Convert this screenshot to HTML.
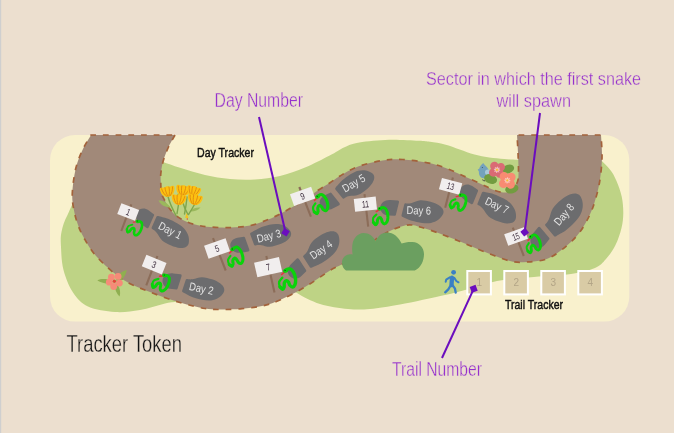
<!DOCTYPE html>
<html><head><meta charset="utf-8"><title>Tracker Token</title>
<style>
html,body{margin:0;padding:0;background:#ecdfcf;}
body{width:674px;height:433px;overflow:hidden;font-family:"Liberation Sans",sans-serif;}
svg{display:block;will-change:transform}
text{font-family:"Liberation Sans",sans-serif;}
</style></head><body>
<svg width="674" height="433" viewBox="0 0 674 433">
<defs><clipPath id="card"><rect x="50" y="135" width="579.3" height="186.6" rx="25" ry="25"/></clipPath></defs>
<rect width="674" height="433" fill="#ecdfcf"/>
<rect x="0" y="0" width="1.2" height="433" fill="#cfcfcf"/>
<rect x="50" y="135" width="579.3" height="186.6" rx="25" ry="25" fill="#f9f1cd"/>
<g clip-path="url(#card)">
<path d="M80.0,200.0 C71.2,200.8 70.6,209.7 67.5,215.0 C64.4,220.3 62.6,226.7 61.5,232.0 C60.4,237.3 60.7,240.7 61.0,247.0 C61.3,253.3 61.5,262.4 63.5,270.0 C65.5,277.6 68.9,286.4 73.0,292.5 C77.1,298.6 81.0,303.2 88.0,306.5 C95.0,309.8 106.3,311.4 115.0,312.0 C123.7,312.6 131.7,311.4 140.0,310.0 C148.3,308.6 156.7,305.8 165.0,303.5 C173.3,301.2 184.2,303.2 190.0,296.0 C195.8,288.8 211.7,274.3 200.0,260.0 C188.3,245.7 140.0,220.0 120.0,210.0 C100.0,200.0 88.8,199.2 80.0,200.0Z" fill="#bed385"/>
<path d="M150.0,157.0 C149.6,148.1 157.5,160.0 162.5,161.8 C167.5,163.6 172.9,165.6 180.0,167.8 C187.1,170.0 196.7,173.1 205.0,175.0 C213.3,176.9 221.7,178.2 230.0,179.0 C238.3,179.8 246.7,180.0 255.0,179.5 C263.3,179.0 271.7,178.0 280.0,176.0 C288.3,174.0 296.7,170.9 305.0,167.5 C313.3,164.1 323.1,158.9 329.7,155.5 C336.3,152.1 339.6,149.4 344.5,147.2 C349.4,145.0 351.9,143.7 359.3,142.5 C366.7,141.3 379.1,140.1 389.0,139.8 C398.9,139.5 411.9,140.5 418.7,140.8 C425.5,141.1 425.6,141.2 430.0,141.8 C434.4,142.4 439.9,143.1 444.8,144.4 C449.8,145.7 454.8,147.7 459.7,149.4 C464.6,151.1 469.6,153.2 474.5,154.5 C479.4,155.8 484.4,156.8 489.3,157.5 C494.2,158.2 499.5,158.6 504.2,159.0 C508.9,159.4 514.0,159.6 517.5,159.8 C521.0,160.0 523.8,153.3 525.0,160.0 C526.2,166.7 545.8,196.7 525.0,200.0 C504.2,203.3 432.5,180.0 400.0,180.0 C367.5,180.0 350.0,190.8 330.0,200.0 C310.0,209.2 301.7,229.2 280.0,235.0 C258.3,240.8 219.2,238.3 200.0,235.0 C180.8,231.7 173.3,228.0 165.0,215.0 C156.7,202.0 150.4,165.9 150.0,157.0Z" fill="#bed385"/>
<path d="M290.0,285.0 C281.2,293.0 292.0,289.8 297.0,293.0 C302.0,296.2 311.5,301.3 320.0,304.0 C328.5,306.7 339.7,308.2 348.0,309.0 C356.3,309.8 361.3,309.8 370.0,309.0 C378.7,308.2 387.5,306.8 400.0,304.5 C412.5,302.2 433.8,297.5 445.0,295.0 C456.2,292.5 458.3,291.8 467.0,289.5 C475.7,287.2 485.8,283.1 497.0,281.0 C508.2,278.9 521.7,278.2 534.0,277.0 C546.3,275.8 560.8,275.5 571.0,274.0 C581.2,272.5 589.2,270.5 595.0,268.0 C600.8,265.5 602.6,262.8 606.0,259.0 C609.4,255.2 612.9,250.2 615.5,245.0 C618.1,239.8 620.2,233.3 621.5,228.0 C622.8,222.7 623.2,218.2 623.3,213.0 C623.3,207.8 622.9,202.3 621.8,197.0 C620.7,191.7 618.5,185.7 616.5,181.0 C614.5,176.3 612.6,172.6 609.5,169.0 C606.4,165.4 601.2,159.3 598.0,159.5 C594.8,159.7 596.3,156.6 590.0,170.0 C583.7,183.4 575.0,228.3 560.0,240.0 C545.0,251.7 523.3,244.2 500.0,240.0 C476.7,235.8 445.0,214.2 420.0,215.0 C395.0,215.8 371.7,233.3 350.0,245.0 C328.3,256.7 298.8,277.0 290.0,285.0Z" fill="#bed385"/>
</g>
<path d="M175.0,135.0 C173.9,137.0 170.4,142.8 168.5,147.0 C166.6,151.2 164.8,155.8 163.5,160.0 C162.2,164.2 161.5,168.5 161.0,172.0 C160.5,175.5 160.6,177.5 160.7,181.0 C160.8,184.5 160.9,189.8 161.5,193.0 C162.1,196.2 163.2,197.4 164.5,200.0 C165.8,202.6 167.5,205.8 169.5,208.5 C171.5,211.2 173.7,213.8 176.5,216.0 C179.3,218.2 183.0,220.2 186.6,221.8 C190.2,223.4 194.1,224.4 198.0,225.3 C201.9,226.2 204.7,226.6 210.0,227.0 C215.3,227.4 223.3,227.8 230.0,227.6 C236.7,227.4 243.8,226.9 250.0,225.6 C256.2,224.3 262.5,221.7 267.5,219.8 C272.5,217.9 275.9,216.1 280.0,214.0 C284.1,211.9 287.8,209.7 292.0,207.3 C296.2,204.9 300.7,202.6 305.0,199.8 C309.3,197.0 313.8,193.1 318.0,190.3 C322.2,187.5 326.3,185.2 330.0,182.8 C333.7,180.4 335.4,178.7 340.0,176.0 C344.6,173.3 350.4,169.4 357.5,166.8 C364.6,164.2 375.0,161.7 382.5,160.5 C390.0,159.3 395.0,159.1 402.5,159.5 C410.0,159.9 420.4,161.4 427.5,162.8 C434.6,164.2 439.2,165.7 445.0,167.8 C450.8,169.9 456.7,172.9 462.5,175.5 C468.3,178.1 475.0,181.2 480.0,183.5 C485.0,185.8 488.7,188.0 492.5,189.5 C496.3,191.0 500.1,192.2 503.0,192.5 C505.9,192.8 508.0,192.2 510.0,191.2 C512.0,190.2 513.7,188.4 515.0,186.5 C516.3,184.6 517.4,182.8 518.0,180.0 C518.6,177.2 518.5,174.6 518.5,170.0 C518.5,165.4 518.2,158.3 518.0,152.5 C517.8,146.7 517.2,137.9 517.0,135.0 L601.0,135.0 C601.2,138.8 602.2,149.6 602.0,157.5 C601.8,165.4 600.8,175.0 599.5,182.5 C598.2,190.0 596.3,196.7 594.5,202.5 C592.7,208.3 591.0,212.5 588.5,217.5 C586.0,222.5 583.1,227.8 579.5,232.5 C575.9,237.2 572.2,241.2 567.0,245.5 C561.8,249.8 554.7,255.8 548.0,258.5 C541.3,261.2 533.3,261.6 527.0,262.0 C520.7,262.4 517.0,262.7 510.0,261.0 C503.0,259.3 493.3,255.2 485.0,252.0 C476.7,248.8 468.0,244.8 460.0,241.5 C452.0,238.2 443.7,234.9 437.0,232.5 C430.3,230.1 424.2,228.2 420.0,227.0 C415.8,225.8 414.5,225.2 412.0,225.0 C409.5,224.8 408.3,224.7 405.0,225.5 C401.7,226.3 396.7,227.8 392.0,230.0 C387.3,232.2 382.3,235.0 377.0,238.5 C371.7,242.0 365.3,247.0 360.0,251.0 C354.7,255.0 350.0,259.2 345.0,262.5 C340.0,265.8 336.7,266.4 330.0,270.5 C323.3,274.6 313.3,282.1 305.0,287.0 C296.7,291.9 287.2,296.8 280.0,300.0 C272.8,303.2 268.3,304.6 262.0,306.0 C255.7,307.4 248.7,308.1 242.0,308.7 C235.3,309.3 228.2,309.5 222.0,309.5 C215.8,309.5 212.0,309.7 205.0,308.5 C198.0,307.3 189.2,305.2 180.0,302.5 C170.8,299.8 159.7,295.9 150.0,292.0 C140.3,288.1 130.8,284.8 122.0,279.0 C113.2,273.2 103.3,263.8 97.0,257.0 C90.7,250.2 87.3,243.8 84.0,238.0 C80.7,232.2 78.8,227.5 77.0,222.0 C75.2,216.5 73.8,210.3 73.0,205.0 C72.2,199.7 72.0,196.2 72.5,190.0 C73.0,183.8 74.3,174.2 76.0,167.5 C77.7,160.8 80.0,155.4 82.5,150.0 C85.0,144.6 89.6,137.5 91.0,135.0Z" fill="#a18979" stroke="#a3623a" stroke-width="1.7" stroke-dasharray="5.8 6.9" stroke-linejoin="round"/>
<path fill="#6b9f60" d="M346,270.5 C343.5,269 342,266 342,262.5 C342,258 345.5,254.500 350,254.300 C351,254.300 352,254.400 352.600,254.600 C352,251 352,247 352.500,244 C353.500,238 358,233 363.500,233 C369,233 373.500,236.500 375.600,241.300 C377.500,236.500 381.500,232.500 387,232.500 C393.500,232.500 398.500,237 401.600,243.600 C404.500,242.300 408.500,241.800 412.500,242 C419,242.300 424,247.500 424,254 C424,261 421,267.500 414.800,270.500 Z"/>
<g fill="#6c6c6e"><path class="sole" transform="translate(170.7,232.2) rotate(35.0) scale(1.04,1.04)" d="M-18.6,-5.9 C-18.0,-6.1 -16.2,-6.8 -14.7,-7.3 C-13.2,-7.8 -12.0,-8.5 -9.5,-9.1 C-7.0,-9.7 -2.6,-10.4 0.6,-10.6 C3.7,-10.8 6.6,-10.8 9.2,-10.1 C11.8,-9.4 14.3,-8.2 16.1,-6.7 C18.0,-5.2 19.6,-2.9 20.3,-1.2 C21.0,0.5 20.9,1.9 20.2,3.3 C19.5,4.7 18.0,6.2 15.9,7.4 C13.8,8.6 10.7,9.7 7.7,10.3 C4.7,10.9 0.8,11.5 -2.2,11.2 C-5.2,10.9 -8.4,8.9 -10.4,8.3 C-12.4,7.7 -13.0,7.7 -14.0,7.6 C-15.0,7.5 -16.0,7.7 -16.4,7.7 Q-17.4,7.8 -17.600,6.800 L-19.800,-4.300 Q-20,-5.400 -18.600,-5.900Z"/><path class="heel" transform="translate(143.9,216.6) rotate(35.0) scale(1.01,1.01)" d="M6.6,-7.600 Q7.4,-7.600 7.6,-6.600 L10,5.900 Q10.300,7.700 8.800,7.700 L1.500,7.700 C-4.200,7.700 -8.200,4.300 -8.200,0 C-8.200,-4.300 -4.800,-7.700 0.200,-7.700 Z"/></g>
<text transform="translate(169.8,231.2) rotate(27.0)" x="0" y="3" font-size="11.2" fill="#e4e4e4" text-anchor="middle" textLength="24.5" lengthAdjust="spacingAndGlyphs">Day 1</text>
<g fill="#6c6c6e"><path class="sole" transform="translate(202.9,288.9) rotate(7.0) scale(1.03,-1.03)" d="M-18.6,-5.9 C-18.0,-6.1 -16.2,-6.8 -14.7,-7.3 C-13.2,-7.8 -12.0,-8.5 -9.5,-9.1 C-7.0,-9.7 -2.6,-10.4 0.6,-10.6 C3.7,-10.8 6.6,-10.8 9.2,-10.1 C11.8,-9.4 14.3,-8.2 16.1,-6.7 C18.0,-5.2 19.6,-2.9 20.3,-1.2 C21.0,0.5 20.9,1.9 20.2,3.3 C19.5,4.7 18.0,6.2 15.9,7.4 C13.8,8.6 10.7,9.7 7.7,10.3 C4.7,10.9 0.8,11.5 -2.2,11.2 C-5.2,10.9 -8.4,8.9 -10.4,8.3 C-12.4,7.7 -13.0,7.7 -14.0,7.6 C-15.0,7.5 -16.0,7.7 -16.4,7.7 Q-17.4,7.8 -17.600,6.800 L-19.800,-4.300 Q-20,-5.400 -18.600,-5.900Z"/><path class="heel" transform="translate(170.8,281.0) rotate(7.0) scale(1.01,-1.01)" d="M6.6,-7.600 Q7.4,-7.600 7.6,-6.600 L10,5.900 Q10.300,7.700 8.800,7.700 L1.500,7.700 C-4.200,7.700 -8.200,4.300 -8.200,0 C-8.200,-4.300 -4.800,-7.700 0.200,-7.700 Z"/></g>
<text transform="translate(201.2,289.4) rotate(12.0)" x="0" y="3" font-size="11.2" fill="#e4e4e4" text-anchor="middle" textLength="24.5" lengthAdjust="spacingAndGlyphs">Day 2</text>
<g fill="#6c6c6e"><path class="sole" transform="translate(270.4,235.4) rotate(-9.0) scale(1.00,1.00)" d="M-18.6,-5.9 C-18.0,-6.1 -16.2,-6.8 -14.7,-7.3 C-13.2,-7.8 -12.0,-8.5 -9.5,-9.1 C-7.0,-9.7 -2.6,-10.4 0.6,-10.6 C3.7,-10.8 6.6,-10.8 9.2,-10.1 C11.8,-9.4 14.3,-8.2 16.1,-6.7 C18.0,-5.2 19.6,-2.9 20.3,-1.2 C21.0,0.5 20.9,1.9 20.2,3.3 C19.5,4.7 18.0,6.2 15.9,7.4 C13.8,8.6 10.7,9.7 7.7,10.3 C4.7,10.9 0.8,11.5 -2.2,11.2 C-5.2,10.9 -8.4,8.9 -10.4,8.3 C-12.4,7.7 -13.0,7.7 -14.0,7.6 C-15.0,7.5 -16.0,7.7 -16.4,7.7 Q-17.4,7.8 -17.600,6.800 L-19.800,-4.300 Q-20,-5.400 -18.600,-5.900Z"/><path class="heel" transform="translate(238.5,245.3) rotate(-9.0) scale(1.00,1.00)" d="M6.6,-7.600 Q7.4,-7.600 7.6,-6.600 L10,5.900 Q10.300,7.700 8.800,7.700 L1.500,7.700 C-4.200,7.700 -8.200,4.300 -8.200,0 C-8.200,-4.300 -4.800,-7.700 0.200,-7.700 Z"/></g>
<text transform="translate(269.1,236.8) rotate(-15.0)" x="0" y="3" font-size="11.2" fill="#e4e4e4" text-anchor="middle" textLength="24.5" lengthAdjust="spacingAndGlyphs">Day 3</text>
<g fill="#6c6c6e"><path class="sole" transform="translate(321.9,249.2) rotate(-44.0) scale(1.07,-1.07)" d="M-18.6,-5.9 C-18.0,-6.1 -16.2,-6.8 -14.7,-7.3 C-13.2,-7.8 -12.0,-8.5 -9.5,-9.1 C-7.0,-9.7 -2.6,-10.4 0.6,-10.6 C3.7,-10.8 6.6,-10.8 9.2,-10.1 C11.8,-9.4 14.3,-8.2 16.1,-6.7 C18.0,-5.2 19.6,-2.9 20.3,-1.2 C21.0,0.5 20.9,1.9 20.2,3.3 C19.5,4.7 18.0,6.2 15.9,7.4 C13.8,8.6 10.7,9.7 7.7,10.3 C4.7,10.9 0.8,11.5 -2.2,11.2 C-5.2,10.9 -8.4,8.9 -10.4,8.3 C-12.4,7.7 -13.0,7.7 -14.0,7.6 C-15.0,7.5 -16.0,7.7 -16.4,7.7 Q-17.4,7.8 -17.600,6.800 L-19.800,-4.300 Q-20,-5.400 -18.600,-5.900Z"/><path class="heel" transform="translate(295.8,270.5) rotate(-44.0) scale(1.02,-1.02)" d="M6.6,-7.600 Q7.4,-7.600 7.6,-6.600 L10,5.900 Q10.300,7.700 8.800,7.700 L1.500,7.700 C-4.200,7.700 -8.200,4.300 -8.200,0 C-8.200,-4.300 -4.800,-7.700 0.200,-7.700 Z"/></g>
<text transform="translate(321.6,250.3) rotate(-35.0)" x="0" y="3" font-size="11.2" fill="#e4e4e4" text-anchor="middle" textLength="24.5" lengthAdjust="spacingAndGlyphs">Day 4</text>
<g fill="#6c6c6e"><path class="sole" transform="translate(354.9,183.9) rotate(-28.0) scale(1.00,1.00)" d="M-18.6,-5.9 C-18.0,-6.1 -16.2,-6.8 -14.7,-7.3 C-13.2,-7.8 -12.0,-8.5 -9.5,-9.1 C-7.0,-9.7 -2.6,-10.4 0.6,-10.6 C3.7,-10.8 6.6,-10.8 9.2,-10.1 C11.8,-9.4 14.3,-8.2 16.1,-6.7 C18.0,-5.2 19.6,-2.9 20.3,-1.2 C21.0,0.5 20.9,1.9 20.2,3.3 C19.5,4.7 18.0,6.2 15.9,7.4 C13.8,8.6 10.7,9.7 7.7,10.3 C4.7,10.9 0.8,11.5 -2.2,11.2 C-5.2,10.9 -8.4,8.9 -10.4,8.3 C-12.4,7.7 -13.0,7.7 -14.0,7.6 C-15.0,7.5 -16.0,7.7 -16.4,7.7 Q-17.4,7.8 -17.600,6.800 L-19.800,-4.300 Q-20,-5.400 -18.600,-5.900Z"/><path class="heel" transform="translate(327.8,202.5) rotate(-28.0) scale(1.00,1.00)" d="M6.6,-7.600 Q7.4,-7.600 7.6,-6.600 L10,5.900 Q10.300,7.700 8.800,7.700 L1.500,7.700 C-4.200,7.700 -8.200,4.300 -8.200,0 C-8.200,-4.300 -4.800,-7.700 0.200,-7.700 Z"/></g>
<text transform="translate(354.2,184.0) rotate(-30.0)" x="0" y="3" font-size="11.2" fill="#e4e4e4" text-anchor="middle" textLength="24.5" lengthAdjust="spacingAndGlyphs">Day 5</text>
<g fill="#6c6c6e"><path class="sole" transform="translate(422.1,212.0) rotate(3.0) scale(1.03,-1.03)" d="M-18.6,-5.9 C-18.0,-6.1 -16.2,-6.8 -14.7,-7.3 C-13.2,-7.8 -12.0,-8.5 -9.5,-9.1 C-7.0,-9.7 -2.6,-10.4 0.6,-10.6 C3.7,-10.8 6.6,-10.8 9.2,-10.1 C11.8,-9.4 14.3,-8.2 16.1,-6.7 C18.0,-5.2 19.6,-2.9 20.3,-1.2 C21.0,0.5 20.9,1.9 20.2,3.3 C19.5,4.7 18.0,6.2 15.9,7.4 C13.8,8.6 10.7,9.7 7.7,10.3 C4.7,10.9 0.8,11.5 -2.2,11.2 C-5.2,10.9 -8.4,8.9 -10.4,8.3 C-12.4,7.7 -13.0,7.7 -14.0,7.6 C-15.0,7.5 -16.0,7.7 -16.4,7.7 Q-17.4,7.8 -17.600,6.800 L-19.800,-4.300 Q-20,-5.400 -18.600,-5.900Z"/><path class="heel" transform="translate(388.6,207.7) rotate(3.0) scale(1.01,-1.01)" d="M6.6,-7.600 Q7.4,-7.600 7.6,-6.600 L10,5.900 Q10.300,7.700 8.800,7.700 L1.500,7.700 C-4.200,7.700 -8.200,4.300 -8.200,0 C-8.200,-4.300 -4.800,-7.700 0.200,-7.700 Z"/></g>
<text transform="translate(418.9,211.3) rotate(1.0)" x="0" y="3" font-size="11.2" fill="#e4e4e4" text-anchor="middle" textLength="24.5" lengthAdjust="spacingAndGlyphs">Day 6</text>
<g fill="#6c6c6e"><path class="sole" transform="translate(497.1,207.7) rotate(33.0) scale(1.06,1.06)" d="M-18.6,-5.9 C-18.0,-6.1 -16.2,-6.8 -14.7,-7.3 C-13.2,-7.8 -12.0,-8.5 -9.5,-9.1 C-7.0,-9.7 -2.6,-10.4 0.6,-10.6 C3.7,-10.8 6.6,-10.8 9.2,-10.1 C11.8,-9.4 14.3,-8.2 16.1,-6.7 C18.0,-5.2 19.6,-2.9 20.3,-1.2 C21.0,0.5 20.9,1.9 20.2,3.3 C19.5,4.7 18.0,6.2 15.9,7.4 C13.8,8.6 10.7,9.7 7.7,10.3 C4.7,10.9 0.8,11.5 -2.2,11.2 C-5.2,10.9 -8.4,8.9 -10.4,8.3 C-12.4,7.7 -13.0,7.7 -14.0,7.6 C-15.0,7.5 -16.0,7.7 -16.4,7.7 Q-17.4,7.8 -17.600,6.800 L-19.800,-4.300 Q-20,-5.400 -18.600,-5.900Z"/><path class="heel" transform="translate(467.8,192.6) rotate(33.0) scale(1.02,1.02)" d="M6.6,-7.600 Q7.4,-7.600 7.6,-6.600 L10,5.900 Q10.300,7.700 8.800,7.700 L1.500,7.700 C-4.200,7.700 -8.200,4.300 -8.200,0 C-8.200,-4.300 -4.800,-7.700 0.200,-7.700 Z"/></g>
<text transform="translate(496.6,206.2) rotate(25.0)" x="0" y="3" font-size="11.2" fill="#e4e4e4" text-anchor="middle" textLength="24.5" lengthAdjust="spacingAndGlyphs">Day 7</text>
<g fill="#6c6c6e"><path class="sole" transform="translate(564.7,214.7) rotate(-51.0) scale(1.18,-1.18)" d="M-18.6,-5.9 C-18.0,-6.1 -16.2,-6.8 -14.7,-7.3 C-13.2,-7.8 -12.0,-8.5 -9.5,-9.1 C-7.0,-9.7 -2.6,-10.4 0.6,-10.6 C3.7,-10.8 6.6,-10.8 9.2,-10.1 C11.8,-9.4 14.3,-8.2 16.1,-6.7 C18.0,-5.2 19.6,-2.9 20.3,-1.2 C21.0,0.5 20.9,1.9 20.2,3.3 C19.5,4.7 18.0,6.2 15.9,7.4 C13.8,8.6 10.7,9.7 7.7,10.3 C4.7,10.9 0.8,11.5 -2.2,11.2 C-5.2,10.9 -8.4,8.9 -10.4,8.3 C-12.4,7.7 -13.0,7.7 -14.0,7.6 C-15.0,7.5 -16.0,7.7 -16.4,7.7 Q-17.4,7.8 -17.600,6.800 L-19.800,-4.300 Q-20,-5.400 -18.600,-5.900Z"/><path class="heel" transform="translate(538.6,239.6) rotate(-51.0) scale(1.06,-1.06)" d="M6.6,-7.600 Q7.4,-7.600 7.6,-6.600 L10,5.900 Q10.300,7.700 8.800,7.700 L1.500,7.700 C-4.200,7.700 -8.200,4.300 -8.200,0 C-8.200,-4.300 -4.800,-7.700 0.200,-7.700 Z"/></g>
<text transform="translate(564.7,215.0) rotate(-50.0)" x="0" y="3" font-size="11.2" fill="#e4e4e4" text-anchor="middle" textLength="24.5" lengthAdjust="spacingAndGlyphs">Day 8</text>
<line x1="131.3" y1="204.3" x2="121.3" y2="231.0" stroke="#8c6d59" stroke-width="2.1"/>
<g transform="translate(128.2,212.0) rotate(21.0)"><rect x="-9.5" y="-5.8" width="19.0" height="11.6" fill="#f1eeee"/><text x="0" y="3.3" font-size="9.5" fill="#3d2d3d" text-anchor="middle" textLength="4.0" lengthAdjust="spacingAndGlyphs">1</text></g>
<line x1="157.4" y1="256.0" x2="146.3" y2="285.3" stroke="#8c6d59" stroke-width="2.1"/>
<g transform="translate(154.1,264.6) rotate(22.0)"><rect x="-10.8" y="-6.2" width="21.7" height="12.4" fill="#f1eeee"/><text x="0" y="3.3" font-size="9.5" fill="#3d2d3d" text-anchor="middle" textLength="4.0" lengthAdjust="spacingAndGlyphs">3</text></g>
<line x1="213.0" y1="238.2" x2="225.7" y2="270.5" stroke="#8c6d59" stroke-width="2.1"/>
<g transform="translate(217.0,248.5) rotate(-19.0)"><rect x="-11.3" y="-6.9" width="22.7" height="13.8" fill="#f1eeee"/><text x="0" y="3.3" font-size="9.5" fill="#3d2d3d" text-anchor="middle" textLength="4.0" lengthAdjust="spacingAndGlyphs">5</text></g>
<line x1="266.3" y1="255.9" x2="274.5" y2="292.5" stroke="#8c6d59" stroke-width="2.1"/>
<g transform="translate(268.2,267.2) rotate(-12.7)"><rect x="-12.8" y="-7.5" width="25.5" height="15.0" fill="#f1eeee"/><text x="0" y="3.3" font-size="9.5" fill="#3d2d3d" text-anchor="middle" textLength="4.0" lengthAdjust="spacingAndGlyphs">7</text></g>
<line x1="299.3" y1="187.0" x2="310.9" y2="216.7" stroke="#8c6d59" stroke-width="2.1"/>
<g transform="translate(302.6,196.3) rotate(-19.3)"><rect x="-11.2" y="-6.2" width="22.4" height="12.5" fill="#f1eeee"/><text x="0" y="3.3" font-size="9.5" fill="#3d2d3d" text-anchor="middle" textLength="4.0" lengthAdjust="spacingAndGlyphs">9</text></g>
<line x1="364.5" y1="194.1" x2="368.2" y2="226.7" stroke="#8c6d59" stroke-width="2.1"/>
<g transform="translate(365.4,204.2) rotate(-6.0)"><rect x="-11.0" y="-6.5" width="22.0" height="12.9" fill="#f1eeee"/><text x="0" y="3.3" font-size="9.5" fill="#3d2d3d" text-anchor="middle" textLength="7.2" lengthAdjust="spacingAndGlyphs">11</text></g>
<line x1="452.9" y1="177.6" x2="445.2" y2="207.7" stroke="#8c6d59" stroke-width="2.1"/>
<g transform="translate(450.6,186.3) rotate(15.0)"><rect x="-10.5" y="-5.9" width="21.0" height="11.8" fill="#f1eeee"/><text x="0" y="3.3" font-size="9.5" fill="#3d2d3d" text-anchor="middle" textLength="7.2" lengthAdjust="spacingAndGlyphs">13</text></g>
<line x1="512.8" y1="227.6" x2="523.8" y2="256.0" stroke="#8c6d59" stroke-width="2.1"/>
<g transform="translate(516.0,236.6) rotate(-19.6)"><rect x="-10.4" y="-6.1" width="20.9" height="12.2" fill="#f1eeee"/><text x="0" y="3.3" font-size="9.5" fill="#3d2d3d" text-anchor="middle" textLength="7.2" lengthAdjust="spacingAndGlyphs">15</text></g>
<g transform="translate(137.3,221.3) rotate(21.0) scale(0.88)"><path d="M-1.2,1.3 L-3.8,2.6" stroke="#e8323c" stroke-width="1.4" stroke-linecap="round" fill="none"/><path d="M-5.7,15.5 C-6.0,15.1 -7.4,14.1 -7.7,12.9 C-7.9,11.8 -8.0,9.8 -7.4,8.5 C-6.7,7.3 -4.5,6.0 -3.9,5.5" fill="none" stroke="#0ad30a" stroke-width="2.1" stroke-linecap="round" stroke-linejoin="round"/><path d="M0.0,0.0 C0.5,-0.2 2.1,-1.0 3.1,-0.9 C4.0,-0.9 5.0,-0.6 5.7,0.4 C6.4,1.3 7.0,3.2 7.3,4.9 C7.5,6.5 7.4,8.5 7.2,10.0 C6.9,11.6 6.4,13.1 5.7,14.0 C5.1,14.9 3.9,15.6 3.2,15.6 C2.4,15.5 1.6,14.3 1.2,13.5 C0.8,12.6 1.0,11.3 0.6,10.5 C0.3,9.7 -0.3,8.8 -0.9,8.8 C-1.5,8.8 -2.6,9.6 -3.1,10.4 C-3.6,11.2 -3.6,12.8 -4.0,13.7 C-4.5,14.5 -5.1,15.6 -5.7,15.5 C-6.3,15.4 -7.3,13.4 -7.7,12.9" fill="none" stroke="#0ad30a" stroke-width="3" stroke-linecap="round" stroke-linejoin="round"/><ellipse cx="0.3" cy="0.1" rx="2.3" ry="1.8" fill="#0ad30a"/><circle cx="0" cy="-0.3" r="0.6" fill="#0d4a0d"/></g>
<g transform="translate(164.1,275.3) rotate(22.0) scale(0.99)"><path d="M-1.2,1.3 L-3.8,2.6" stroke="#e8323c" stroke-width="1.4" stroke-linecap="round" fill="none"/><path d="M-5.7,15.5 C-6.0,15.1 -7.4,14.1 -7.7,12.9 C-7.9,11.8 -8.0,9.8 -7.4,8.5 C-6.7,7.3 -4.5,6.0 -3.9,5.5" fill="none" stroke="#0ad30a" stroke-width="2.1" stroke-linecap="round" stroke-linejoin="round"/><path d="M0.0,0.0 C0.5,-0.2 2.1,-1.0 3.1,-0.9 C4.0,-0.9 5.0,-0.6 5.7,0.4 C6.4,1.3 7.0,3.2 7.3,4.9 C7.5,6.5 7.4,8.5 7.2,10.0 C6.9,11.6 6.4,13.1 5.7,14.0 C5.1,14.9 3.9,15.6 3.2,15.6 C2.4,15.5 1.6,14.3 1.2,13.5 C0.8,12.6 1.0,11.3 0.6,10.5 C0.3,9.7 -0.3,8.8 -0.9,8.8 C-1.5,8.8 -2.6,9.6 -3.1,10.4 C-3.6,11.2 -3.6,12.8 -4.0,13.7 C-4.5,14.5 -5.1,15.6 -5.7,15.5 C-6.3,15.4 -7.3,13.4 -7.7,12.9" fill="none" stroke="#0ad30a" stroke-width="3" stroke-linecap="round" stroke-linejoin="round"/><ellipse cx="0.3" cy="0.1" rx="2.3" ry="1.8" fill="#0ad30a"/><circle cx="0" cy="-0.3" r="0.6" fill="#0d4a0d"/></g>
<g transform="translate(232.4,249.3) rotate(-19.0) scale(1.03)"><path d="M-1.2,1.3 L-3.8,2.6" stroke="#e8323c" stroke-width="1.4" stroke-linecap="round" fill="none"/><path d="M-5.7,15.5 C-6.0,15.1 -7.4,14.1 -7.7,12.9 C-7.9,11.8 -8.0,9.8 -7.4,8.5 C-6.7,7.3 -4.5,6.0 -3.9,5.5" fill="none" stroke="#0ad30a" stroke-width="2.1" stroke-linecap="round" stroke-linejoin="round"/><path d="M0.0,0.0 C0.5,-0.2 2.1,-1.0 3.1,-0.9 C4.0,-0.9 5.0,-0.6 5.7,0.4 C6.4,1.3 7.0,3.2 7.3,4.9 C7.5,6.5 7.4,8.5 7.2,10.0 C6.9,11.6 6.4,13.1 5.7,14.0 C5.1,14.9 3.9,15.6 3.2,15.6 C2.4,15.5 1.6,14.3 1.2,13.5 C0.8,12.6 1.0,11.3 0.6,10.5 C0.3,9.7 -0.3,8.8 -0.9,8.8 C-1.5,8.8 -2.6,9.6 -3.1,10.4 C-3.6,11.2 -3.6,12.8 -4.0,13.7 C-4.5,14.5 -5.1,15.6 -5.7,15.5 C-6.3,15.4 -7.3,13.4 -7.7,12.9" fill="none" stroke="#0ad30a" stroke-width="3" stroke-linecap="round" stroke-linejoin="round"/><ellipse cx="0.3" cy="0.1" rx="2.3" ry="1.8" fill="#0ad30a"/><circle cx="0" cy="-0.3" r="0.6" fill="#0d4a0d"/></g>
<g transform="translate(285.2,270.7) rotate(-12.7) scale(1.13)"><path d="M-1.2,1.3 L-3.8,2.6" stroke="#e8323c" stroke-width="1.4" stroke-linecap="round" fill="none"/><path d="M-5.7,15.5 C-6.0,15.1 -7.4,14.1 -7.7,12.9 C-7.9,11.8 -8.0,9.8 -7.4,8.5 C-6.7,7.3 -4.5,6.0 -3.9,5.5" fill="none" stroke="#0ad30a" stroke-width="2.1" stroke-linecap="round" stroke-linejoin="round"/><path d="M0.0,0.0 C0.5,-0.2 2.1,-1.0 3.1,-0.9 C4.0,-0.9 5.0,-0.6 5.7,0.4 C6.4,1.3 7.0,3.2 7.3,4.9 C7.5,6.5 7.4,8.5 7.2,10.0 C6.9,11.6 6.4,13.1 5.7,14.0 C5.1,14.9 3.9,15.6 3.2,15.6 C2.4,15.5 1.6,14.3 1.2,13.5 C0.8,12.6 1.0,11.3 0.6,10.5 C0.3,9.7 -0.3,8.8 -0.9,8.8 C-1.5,8.8 -2.6,9.6 -3.1,10.4 C-3.6,11.2 -3.6,12.8 -4.0,13.7 C-4.5,14.5 -5.1,15.6 -5.7,15.5 C-6.3,15.4 -7.3,13.4 -7.7,12.9" fill="none" stroke="#0ad30a" stroke-width="3" stroke-linecap="round" stroke-linejoin="round"/><ellipse cx="0.3" cy="0.1" rx="2.3" ry="1.8" fill="#0ad30a"/><circle cx="0" cy="-0.3" r="0.6" fill="#0d4a0d"/></g>
<g transform="translate(317.3,196.7) rotate(-19.3) scale(1.03)"><path d="M-1.2,1.3 L-3.8,2.6" stroke="#e8323c" stroke-width="1.4" stroke-linecap="round" fill="none"/><path d="M-5.7,15.5 C-6.0,15.1 -7.4,14.1 -7.7,12.9 C-7.9,11.8 -8.0,9.8 -7.4,8.5 C-6.7,7.3 -4.5,6.0 -3.9,5.5" fill="none" stroke="#0ad30a" stroke-width="2.1" stroke-linecap="round" stroke-linejoin="round"/><path d="M0.0,0.0 C0.5,-0.2 2.1,-1.0 3.1,-0.9 C4.0,-0.9 5.0,-0.6 5.7,0.4 C6.4,1.3 7.0,3.2 7.3,4.9 C7.5,6.5 7.4,8.5 7.2,10.0 C6.9,11.6 6.4,13.1 5.7,14.0 C5.1,14.9 3.9,15.6 3.2,15.6 C2.4,15.5 1.6,14.3 1.2,13.5 C0.8,12.6 1.0,11.3 0.6,10.5 C0.3,9.7 -0.3,8.8 -0.9,8.8 C-1.5,8.8 -2.6,9.6 -3.1,10.4 C-3.6,11.2 -3.6,12.8 -4.0,13.7 C-4.5,14.5 -5.1,15.6 -5.7,15.5 C-6.3,15.4 -7.3,13.4 -7.7,12.9" fill="none" stroke="#0ad30a" stroke-width="3" stroke-linecap="round" stroke-linejoin="round"/><ellipse cx="0.3" cy="0.1" rx="2.3" ry="1.8" fill="#0ad30a"/><circle cx="0" cy="-0.3" r="0.6" fill="#0d4a0d"/></g>
<g transform="translate(379.7,208.7) rotate(-6.0) scale(1.00)"><path d="M-1.2,1.3 L-3.8,2.6" stroke="#e8323c" stroke-width="1.4" stroke-linecap="round" fill="none"/><path d="M-5.7,15.5 C-6.0,15.1 -7.4,14.1 -7.7,12.9 C-7.9,11.8 -8.0,9.8 -7.4,8.5 C-6.7,7.3 -4.5,6.0 -3.9,5.5" fill="none" stroke="#0ad30a" stroke-width="2.1" stroke-linecap="round" stroke-linejoin="round"/><path d="M0.0,0.0 C0.5,-0.2 2.1,-1.0 3.1,-0.9 C4.0,-0.9 5.0,-0.6 5.7,0.4 C6.4,1.3 7.0,3.2 7.3,4.9 C7.5,6.5 7.4,8.5 7.2,10.0 C6.9,11.6 6.4,13.1 5.7,14.0 C5.1,14.9 3.9,15.6 3.2,15.6 C2.4,15.5 1.6,14.3 1.2,13.5 C0.8,12.6 1.0,11.3 0.6,10.5 C0.3,9.7 -0.3,8.8 -0.9,8.8 C-1.5,8.8 -2.6,9.6 -3.1,10.4 C-3.6,11.2 -3.6,12.8 -4.0,13.7 C-4.5,14.5 -5.1,15.6 -5.7,15.5 C-6.3,15.4 -7.3,13.4 -7.7,12.9" fill="none" stroke="#0ad30a" stroke-width="3" stroke-linecap="round" stroke-linejoin="round"/><ellipse cx="0.3" cy="0.1" rx="2.3" ry="1.8" fill="#0ad30a"/><circle cx="0" cy="-0.3" r="0.6" fill="#0d4a0d"/></g>
<g transform="translate(460.4,195.1) rotate(15.0) scale(0.96)"><path d="M-1.2,1.3 L-3.8,2.6" stroke="#e8323c" stroke-width="1.4" stroke-linecap="round" fill="none"/><path d="M-5.7,15.5 C-6.0,15.1 -7.4,14.1 -7.7,12.9 C-7.9,11.8 -8.0,9.8 -7.4,8.5 C-6.7,7.3 -4.5,6.0 -3.9,5.5" fill="none" stroke="#0ad30a" stroke-width="2.1" stroke-linecap="round" stroke-linejoin="round"/><path d="M0.0,0.0 C0.5,-0.2 2.1,-1.0 3.1,-0.9 C4.0,-0.9 5.0,-0.6 5.7,0.4 C6.4,1.3 7.0,3.2 7.3,4.9 C7.5,6.5 7.4,8.5 7.2,10.0 C6.9,11.6 6.4,13.1 5.7,14.0 C5.1,14.9 3.9,15.6 3.2,15.6 C2.4,15.5 1.6,14.3 1.2,13.5 C0.8,12.6 1.0,11.3 0.6,10.5 C0.3,9.7 -0.3,8.8 -0.9,8.8 C-1.5,8.8 -2.6,9.6 -3.1,10.4 C-3.6,11.2 -3.6,12.8 -4.0,13.7 C-4.5,14.5 -5.1,15.6 -5.7,15.5 C-6.3,15.4 -7.3,13.4 -7.7,12.9" fill="none" stroke="#0ad30a" stroke-width="3" stroke-linecap="round" stroke-linejoin="round"/><ellipse cx="0.3" cy="0.1" rx="2.3" ry="1.8" fill="#0ad30a"/><circle cx="0" cy="-0.3" r="0.6" fill="#0d4a0d"/></g>
<g transform="translate(530.6,236.9) rotate(-19.6) scale(0.96)"><path d="M-1.2,1.3 L-3.8,2.6" stroke="#e8323c" stroke-width="1.4" stroke-linecap="round" fill="none"/><path d="M-5.7,15.5 C-6.0,15.1 -7.4,14.1 -7.7,12.9 C-7.9,11.8 -8.0,9.8 -7.4,8.5 C-6.7,7.3 -4.5,6.0 -3.9,5.5" fill="none" stroke="#0ad30a" stroke-width="2.1" stroke-linecap="round" stroke-linejoin="round"/><path d="M0.0,0.0 C0.5,-0.2 2.1,-1.0 3.1,-0.9 C4.0,-0.9 5.0,-0.6 5.7,0.4 C6.4,1.3 7.0,3.2 7.3,4.9 C7.5,6.5 7.4,8.5 7.2,10.0 C6.9,11.6 6.4,13.1 5.7,14.0 C5.1,14.9 3.9,15.6 3.2,15.6 C2.4,15.5 1.6,14.3 1.2,13.5 C0.8,12.6 1.0,11.3 0.6,10.5 C0.3,9.7 -0.3,8.8 -0.9,8.8 C-1.5,8.8 -2.6,9.6 -3.1,10.4 C-3.6,11.2 -3.6,12.8 -4.0,13.7 C-4.5,14.5 -5.1,15.6 -5.7,15.5 C-6.3,15.4 -7.3,13.4 -7.7,12.9" fill="none" stroke="#0ad30a" stroke-width="3" stroke-linecap="round" stroke-linejoin="round"/><ellipse cx="0.3" cy="0.1" rx="2.3" ry="1.8" fill="#0ad30a"/><circle cx="0" cy="-0.3" r="0.6" fill="#0d4a0d"/></g>
<g>
<path d="M158.5,200.5 C162,200 167,202 170.5,207.5 C166,207.5 161,205.500 158.5,200.5Z" fill="#9ab85c"/>
<path d="M189.500,211.500 C192,208.500 196.500,207 200.500,207.500 C198,210.500 193.500,212 189.500,211.500Z" fill="#9ab85c"/>
<path d="M176,196 C178,192.500 181,190.500 183,190 C182.500,193 180.500,196 178,198Z" fill="#8fb055"/>
<path d="M190,194 C191.500,191.500 194,190 196,189.500 C195.500,192 194,194.500 192,196Z" fill="#8fb055"/>
<g fill="none" stroke="#7fa54c" stroke-width="1.4" stroke-linecap="round">
<path d="M168,196.500 C169.500,203 173,210 176.300,216"/>
<path d="M178.500,204.500 C178,208 177.500,211 177,213.500"/>
<path d="M187,197 C186.500,203 185.500,209 184.500,214"/>
<path d="M194.500,204.500 C192.500,208 190.500,211.500 188.500,214.500"/>
<path d="M183,203 C184,207 186,211 188,214.500"/>
</g>
<g transform="translate(183.2,190.6) rotate(8) scale(1.00)"><path d="M-7.4,-3.2 C-7.6,-5.2 -5,-5.6 -3,-4.4 C-1.5,-5.8 1.5,-5.8 3,-4.4 C5,-5.6 7.600,-5.2 7.4,-3.2 C7.2,2 4,5.2 0,5.2 C-4,5.2 -7.2,2 -7.4,-3.2Z" fill="#fcc111"/><path d="M-5.6,-4.2 C-5.2,-0.500 -3.500,2.800 -1.600,4.600 M-2,-4.800 C-2.200,-1.500 -1.500,2 -0.500,4.800 M2,-4.800 C2.200,-1.500 1.500,2 0.500,4.800 M5.600,-4.200 C5.200,-0.500 3.500,2.800 1.600,4.600" fill="none" stroke="#e08a10" stroke-width="0.9"/></g>
<g transform="translate(193.5,191.2) rotate(14) scale(0.95)"><path d="M-7.4,-3.2 C-7.6,-5.2 -5,-5.6 -3,-4.4 C-1.5,-5.8 1.5,-5.8 3,-4.4 C5,-5.6 7.600,-5.2 7.4,-3.2 C7.2,2 4,5.2 0,5.2 C-4,5.2 -7.2,2 -7.4,-3.2Z" fill="#fcc111"/><path d="M-5.6,-4.2 C-5.2,-0.500 -3.500,2.800 -1.600,4.600 M-2,-4.800 C-2.200,-1.500 -1.500,2 -0.500,4.800 M2,-4.800 C2.200,-1.500 1.500,2 0.500,4.800 M5.600,-4.200 C5.200,-0.500 3.500,2.800 1.600,4.600" fill="none" stroke="#e08a10" stroke-width="0.9"/></g>
<g transform="translate(167.7,191.6) rotate(-10) scale(1.00)"><path d="M-7.4,-3.2 C-7.6,-5.2 -5,-5.6 -3,-4.4 C-1.5,-5.8 1.5,-5.8 3,-4.4 C5,-5.6 7.600,-5.2 7.4,-3.2 C7.2,2 4,5.2 0,5.2 C-4,5.2 -7.2,2 -7.4,-3.2Z" fill="#fcc111"/><path d="M-5.6,-4.2 C-5.2,-0.500 -3.500,2.800 -1.600,4.600 M-2,-4.800 C-2.200,-1.500 -1.500,2 -0.500,4.800 M2,-4.800 C2.200,-1.500 1.500,2 0.500,4.800 M5.600,-4.200 C5.200,-0.500 3.500,2.800 1.600,4.600" fill="none" stroke="#e08a10" stroke-width="0.9"/></g>
<g transform="translate(178.8,199.8) rotate(6) scale(1.00)"><path d="M-7.4,-3.2 C-7.6,-5.2 -5,-5.6 -3,-4.4 C-1.5,-5.8 1.5,-5.8 3,-4.4 C5,-5.6 7.600,-5.2 7.4,-3.2 C7.2,2 4,5.2 0,5.2 C-4,5.2 -7.2,2 -7.4,-3.2Z" fill="#fcc111"/><path d="M-5.6,-4.2 C-5.2,-0.500 -3.500,2.800 -1.600,4.600 M-2,-4.800 C-2.200,-1.500 -1.500,2 -0.500,4.800 M2,-4.800 C2.200,-1.500 1.500,2 0.500,4.800 M5.600,-4.200 C5.200,-0.500 3.500,2.800 1.600,4.600" fill="none" stroke="#e08a10" stroke-width="0.9"/></g>
<g transform="translate(194.9,199.8) rotate(10) scale(1.00)"><path d="M-7.4,-3.2 C-7.6,-5.2 -5,-5.6 -3,-4.4 C-1.5,-5.8 1.5,-5.8 3,-4.4 C5,-5.6 7.600,-5.2 7.4,-3.2 C7.2,2 4,5.2 0,5.2 C-4,5.2 -7.2,2 -7.4,-3.2Z" fill="#fcc111"/><path d="M-5.6,-4.2 C-5.2,-0.500 -3.500,2.800 -1.600,4.600 M-2,-4.800 C-2.200,-1.500 -1.500,2 -0.500,4.800 M2,-4.800 C2.200,-1.500 1.500,2 0.500,4.800 M5.600,-4.200 C5.200,-0.500 3.500,2.800 1.600,4.600" fill="none" stroke="#e08a10" stroke-width="0.9"/></g>
<path d="M186.600,213 L188.400,218 L185.200,218Z" fill="#f5c21a"/><circle cx="187.300" cy="219" r="0.700" fill="#e0453a"/>
</g>
<g>
<path d="M116,280 C118,274 122,271 126.800,270 C126,275 122.500,280 118,282.500Z" fill="#8faf50"/>
<path d="M112,281 C107,278.500 101,278.500 97.300,280.500 C101,283 107,284 111,283.500Z" fill="#8faf50"/>
<path d="M114.500,284 C114.500,289 116.500,293.500 119.500,296.500 C121,292 119.500,287 117,283.500Z" fill="#8faf50"/>
<circle cx="111.4" cy="277.1" r="3.4" fill="#f68b78"/>
<circle cx="118.1" cy="276.4" r="3.4" fill="#f68b78"/>
<circle cx="119.4" cy="283.1" r="3.4" fill="#f68b78"/>
<circle cx="113.7" cy="286.5" r="3.4" fill="#f68b78"/>
<circle cx="109.3" cy="282.2" r="3.4" fill="#f68b78"/>
<circle cx="114.400" cy="281.200" r="1.700" fill="#e2463b"/>
</g>
<g>
<path d="M483.200,163 C484.500,165 487,166.500 488.500,169.500 C490.500,173.500 488.500,178 484,178.200 C480.500,178.300 478.700,175.500 478.900,171.500 L477.700,169.600 L479.200,168.700 C479.800,166.500 481.500,164.500 483.200,163Z" fill="#74a2bd"/>
<ellipse cx="488" cy="172.300" rx="3" ry="2.800" fill="#a9c9d8"/>
<circle cx="482.300" cy="167.600" r="0.500" fill="#2c4a5a"/>
<path d="M482.500,179.500 l1.200,1.700 M484,179.800 l0.800,1.600" stroke="#3a3a3a" stroke-width="0.800" fill="none"/>
<ellipse cx="490.6" cy="179.0" rx="6.7" ry="4.6" transform="rotate(20 490.6 179.0)" fill="#729c40"/>
<ellipse cx="508.3" cy="169.0" rx="6.0" ry="4.2" transform="rotate(-20 508.3 169.0)" fill="#729c40"/>
<ellipse cx="511.8" cy="188.8" rx="6.7" ry="4.6" transform="rotate(-15 511.8 188.8)" fill="#729c40"/>
<g transform="translate(497.0,169.8) rotate(10)">
<circle cx="-3.28" cy="-3.28" r="4.20" fill="#da6b74"/>
<circle cx="3.28" cy="-3.28" r="4.20" fill="#da6b74"/>
<circle cx="3.28" cy="3.28" r="4.20" fill="#da6b74"/>
<circle cx="-3.28" cy="3.28" r="4.20" fill="#da6b74"/>
<circle r="3.78" fill="#da6b74"/>
<circle r="2.600" fill="#fbd5cf" opacity="0.45"/>
<path d="M-3.200,0H3.200M0,-3.200V3.200M-2.300,-2.300L2.300,2.300M-2.300,2.300L2.300,-2.300" stroke="#fde3dd" stroke-width="0.600" opacity="0.9"/>
<circle r="1.150" fill="#f7bf2f"/></g>
<g transform="translate(507.3,180.4) rotate(5)">
<circle cx="-3.51" cy="-3.51" r="4.50" fill="#f88b72"/>
<circle cx="3.51" cy="-3.51" r="4.50" fill="#f88b72"/>
<circle cx="3.51" cy="3.51" r="4.50" fill="#f88b72"/>
<circle cx="-3.51" cy="3.51" r="4.50" fill="#f88b72"/>
<circle r="4.05" fill="#f88b72"/>
<circle r="2.600" fill="#fbd5cf" opacity="0.45"/>
<path d="M-3.200,0H3.200M0,-3.200V3.200M-2.300,-2.300L2.300,2.300M-2.300,2.300L2.300,-2.300" stroke="#fde3dd" stroke-width="0.600" opacity="0.9"/>
<circle r="1.150" fill="#f7bf2f"/></g>
</g>
<rect x="467.3" y="271" width="23.6" height="23.4" fill="#d9cba5" stroke="#ffffff" stroke-width="2"/>
<text x="479.2" y="285.8" font-size="10" fill="#b3a587" text-anchor="middle">1</text>
<rect x="504.3" y="271" width="23.6" height="23.4" fill="#d9cba5" stroke="#ffffff" stroke-width="2"/>
<text x="516.2" y="285.8" font-size="10" fill="#b3a587" text-anchor="middle">2</text>
<rect x="541.3" y="271" width="23.6" height="23.4" fill="#d9cba5" stroke="#ffffff" stroke-width="2"/>
<text x="553.2" y="285.8" font-size="10" fill="#b3a587" text-anchor="middle">3</text>
<rect x="578.3" y="271" width="23.6" height="23.4" fill="#d9cba5" stroke="#ffffff" stroke-width="2"/>
<text x="590.2" y="285.8" font-size="10" fill="#b3a587" text-anchor="middle">4</text>
<g fill="none" stroke="#3a80c4" stroke-linecap="round" stroke-linejoin="round"><circle cx="453.6" cy="272.3" r="2.4" fill="#3a80c4" stroke="none"/><path d="M452,277.6 L451.5,285" stroke-width="4.300"/><path d="M449.800,277.300 L446.200,279.700 L445.700,281.700" stroke-width="2"/><path d="M454.300,277.900 L456.300,281 L458.500,282.300" stroke-width="2"/><path d="M450.600,285.500 L448.300,289.300 L445.200,292.300" stroke-width="2.300"/><path d="M452.700,285.500 L455,288.700 L455.700,292.500" stroke-width="2.300"/></g>
<text x="197" y="156.900" font-size="13.300" fill="#111" stroke="#111" stroke-width="0.45" textLength="57" lengthAdjust="spacingAndGlyphs">Day Tracker</text>
<text x="505" y="309" font-size="13" fill="#111" stroke="#111" stroke-width="0.45" textLength="58" lengthAdjust="spacingAndGlyphs">Trail Tracker</text>
<line x1="259.0" y1="117.0" x2="285.5" y2="232.3" stroke="#6b0dbe" stroke-width="2"/>
<rect x="282.4" y="229.2" width="6.2" height="6.2" fill="#6b0dbe" transform="rotate(122.1 285.5 232.3)"/>
<line x1="540.0" y1="113.0" x2="524.7" y2="232.2" stroke="#6b0dbe" stroke-width="2"/>
<rect x="521.6" y="229.1" width="6.2" height="6.2" fill="#6b0dbe" transform="rotate(142.3 524.7 232.2)"/>
<line x1="442.0" y1="358.0" x2="473.7" y2="288.8" stroke="#6b0dbe" stroke-width="2"/>
<rect x="470.6" y="285.7" width="6.2" height="6.2" fill="#6b0dbe" transform="rotate(-20.4 473.7 288.8)"/>
<text x="214.5" y="107" font-size="19.5" fill="#9630cd" stroke="#ecdfcf" stroke-width="0.35" paint-order="fill stroke" textLength="88.5" lengthAdjust="spacingAndGlyphs">Day Number</text>
<text x="426" y="84.5" font-size="19" fill="#9630cd" stroke="#ecdfcf" stroke-width="0.35" paint-order="fill stroke" textLength="215" lengthAdjust="spacingAndGlyphs">Sector in which the first snake</text>
<text x="496.5" y="106.5" font-size="19" fill="#9630cd" stroke="#ecdfcf" stroke-width="0.35" paint-order="fill stroke" textLength="74.5" lengthAdjust="spacingAndGlyphs">will spawn</text>
<text x="392" y="376.4" font-size="19.5" fill="#9630cd" stroke="#ecdfcf" stroke-width="0.35" paint-order="fill stroke" textLength="90" lengthAdjust="spacingAndGlyphs">Trail Number</text>
<text x="66.5" y="352" font-size="23.2" fill="#151515" stroke="#ecdfcf" stroke-width="0.3" paint-order="fill stroke" textLength="115.500" lengthAdjust="spacingAndGlyphs">Tracker Token</text>
</svg></body></html>
